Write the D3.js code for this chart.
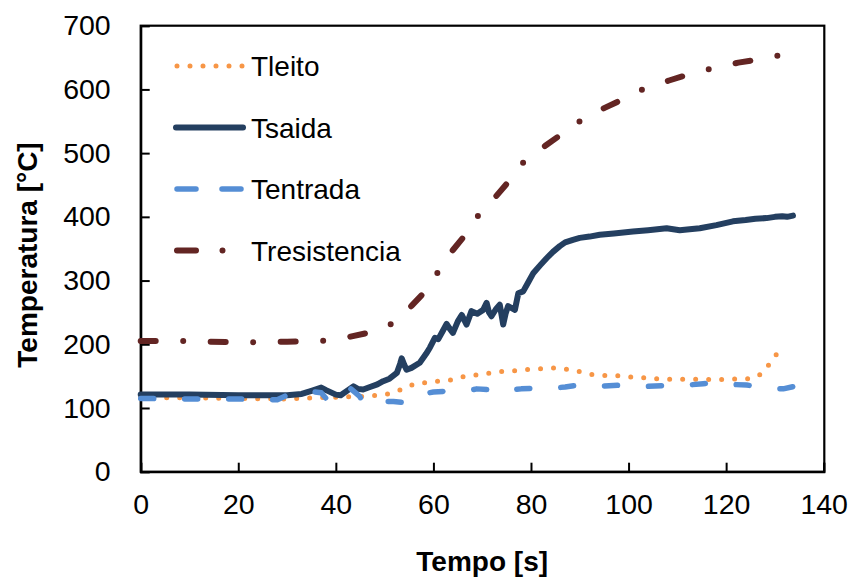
<!DOCTYPE html>
<html>
<head>
<meta charset="utf-8">
<script src="https://cdn.jsdelivr.net/npm/d3@7"></script>
<style>
  html, body { margin: 0; padding: 0; background: #fff; }
  svg { display: block; font-family: "Liberation Sans", Arial, sans-serif; }
</style>
</head>
<body>
<svg id="chart" width="854" height="579"></svg>
<script>
// Axis ticks
const xTicks = [0, 20, 40, 60, 80, 100, 120, 140];
const yTicks = [0, 100, 200, 300, 400, 500, 600, 700];

// Tleito (bed temperature)
const tleitoTime = [0, 10, 20, 30, 35, 40, 45, 48.4, 50.7, 53.5, 55.9, 58.5, 61, 63.6, 66.5, 69.1, 71.6, 73.6, 76, 78.7, 81, 83.8, 86, 88.3, 90.5, 92.7, 95, 97.5, 100, 102.3, 105, 107.1, 110, 112.6, 115, 117.3, 120, 122.8, 125, 126.6, 127.6, 129, 130.3, 131.4];
const tleitoVal  = [116, 116, 115, 114, 116, 117, 118, 120, 122, 129, 137, 140, 142, 144, 150, 152, 155, 157, 158, 160, 161, 163, 162, 160, 156, 152, 151, 151, 149, 148, 146, 145.5, 145, 145.5, 145, 144.5, 145, 145.5, 146, 150, 157, 170, 184, 190];

// Tsaida (outlet temperature)
const tsaidaTime = [0, 10, 20, 30, 33, 35, 37, 38, 40, 41, 42.5, 43.6, 44.5, 45.6, 47, 48.5, 49.7, 51, 52.5, 53.2, 53.5, 54, 54.5, 55.5, 57.2, 58.5, 59.3, 60.3, 61, 62, 62.7, 63.3, 64, 65, 65.8, 66.8, 67.8, 69, 70.2, 70.9, 71.4, 71.9, 72.8, 73.6, 74, 74.3, 74.8, 75.3, 76.7, 77.4, 78.4, 79.5, 80.5, 82, 83.2, 84.5, 85.9, 87, 88.6, 90, 92, 94.1, 97, 100.9, 104, 107.8, 110.5, 112, 114.6, 118, 121.4, 124, 126, 128.3, 130, 131.5, 132.5, 133.7];
const tsaidaVal  = [121, 121, 120, 120, 122, 127, 132, 128, 121, 120, 128, 134, 130, 129, 133, 137, 142, 146, 155, 170, 178, 168, 160, 163, 171, 185, 195, 210, 208, 222, 232, 225, 218, 236, 246, 231, 252, 248, 254, 265, 250, 244, 255, 262, 245, 231, 248, 260, 254, 280, 283, 298, 312, 325, 335, 345, 354, 360, 364, 367, 369, 372, 374, 377, 379, 382, 379, 380, 382, 387, 393, 395, 397, 398, 400, 401, 400, 402];

// Tentrada (inlet temperature)
const tentradaTime = [0, 10, 20, 28, 30, 31.3, 33, 35, 37, 38.1, 40, 41.5, 42.9, 44, 44.9, 45.6, 47.3, 49, 51.8, 53.5, 55.2, 57, 60, 64, 66, 68.9, 71, 73.3, 75, 78, 81, 84.2, 87, 90, 93, 96, 98.9, 102, 104, 106.8, 109.8, 112, 115.3, 118.4, 121, 124.2, 127.3, 129, 131.7, 134];
const tentradaVal  = [115, 114, 114, 113, 120, 124, 125, 126, 124, 114, 115, 116, 131, 124, 118, 108, 108, 110, 110, 109, 118, 121, 125, 127, 126, 130, 129, 124, 128, 130, 131, 131, 133, 136, 134, 135, 136, 135, 134, 135, 136, 136, 138, 140, 137, 136, 133, 131, 130, 134];

// Tresistencia (heater temperature)
const tresTime = [0, 10, 20, 30, 36, 40, 43, 46, 48, 50, 52, 54, 55.6, 58.7, 61.4, 64, 66.9, 69.7, 72.8, 75.7, 78.4, 81, 83, 86.5, 90.7, 95.1, 99, 103.7, 108.3, 113, 117.7, 122.5, 126.7, 131.8];
const tresVal  = [205, 205, 203, 204, 205, 207, 212, 217, 220, 227, 234, 248, 261, 286, 319, 348, 375, 408, 432, 458, 485, 500, 512, 531, 554, 571, 585, 603, 614, 625, 634, 642, 647, 655];

const seriesNames = ["Tleito", "Tsaida", "Tentrada", "Tresistencia"];

const series = [
  { name: seriesNames[0], t: tleitoTime, v: tleitoVal, color: "#F79646", width: 5, dash: "0,13", legendDash: "0,13" },
  { name: seriesNames[1], t: tsaidaTime, v: tsaidaVal, color: "#243F60", width: 6, dash: null, legendDash: null },
  { name: seriesNames[2], t: tentradaTime, v: tentradaVal, color: "#558ED5", width: 5.5, dash: "13,31", legendDash: "19,26" },
  { name: seriesNames[3], t: tresTime, v: tresVal, color: "#632523", width: 6, dash: "15,27.5,0,27.5", legendDash: "19,26.5,0,100" }
];

const svg = d3.select("#chart");
const plotLeft = 140.7, plotRight = 823.7, plotTop = 25.7, plotBottom = 471.7;

const x = d3.scaleLinear().domain([0, 140]).range([plotLeft, plotRight]);
const y = d3.scaleLinear().domain([0, 700]).range([plotBottom, plotTop]);

// Plot frame
svg.append("rect")
  .attr("x", plotLeft).attr("y", plotTop)
  .attr("width", plotRight - plotLeft + 0.6).attr("height", plotBottom - plotTop)
  .attr("fill", "none").attr("stroke", "#000").attr("stroke-width", 2.2);

// Axes with inward ticks
const xAxis = d3.axisBottom(x).tickValues(xTicks).tickSize(-9).tickPadding(22).tickFormat(d3.format("d"));
const yAxis = d3.axisLeft(y).tickValues(yTicks).tickSize(-9).tickPadding(30).tickFormat(d3.format("d"));

const gx = svg.append("g").attr("transform", `translate(0,${plotBottom})`).call(xAxis);
const gy = svg.append("g").attr("transform", `translate(${plotLeft},0)`).call(yAxis);
[gx, gy].forEach(g => {
  g.select(".domain").attr("stroke", "#000").attr("stroke-width", 2.2);
  g.selectAll(".tick line").attr("stroke", "#000").attr("stroke-width", 2);
  g.selectAll(".tick text").attr("fill", "#000").attr("font-size", 28.5)
    .attr("font-family", "Liberation Sans, Arial, sans-serif");
});
gx.selectAll(".tick text").attr("dy", "0.71em");

// Series lines
const line = d3.line().curve(d3.curveLinear);
const plot = svg.append("g");
series.forEach(s => {
  const pts = s.t.map((t, i) => [x(t), y(s.v[i])]);
  const p = plot.append("path")
    .attr("d", line(pts))
    .attr("fill", "none")
    .attr("stroke", s.color)
    .attr("stroke-width", s.width)
    .attr("stroke-linecap", "round")
    .attr("stroke-linejoin", "round");
  if (s.dash) p.attr("stroke-dasharray", s.dash);
});

// Legend
const legend = svg.append("g");
const legY0 = 66, legStep = 61.5;
series.forEach((s, i) => {
  const ly = legY0 + i * legStep;
  const lx0 = s.dash ? 177 : 176, lx1 = 243;
  const l = legend.append("line")
    .attr("x1", lx0).attr("x2", lx1).attr("y1", ly).attr("y2", ly)
    .attr("stroke", s.color).attr("stroke-width", s.width)
    .attr("stroke-linecap", "round");
  if (s.legendDash) l.attr("stroke-dasharray", s.legendDash);
  legend.append("text")
    .attr("x", 251).attr("y", ly + 10)
    .attr("font-size", 28)
    .attr("fill", "#000")
    .text(s.name);
});

// Axis titles
svg.append("text")
  .attr("x", (plotLeft + plotRight) / 2).attr("y", 571)
  .attr("text-anchor", "middle")
  .attr("font-size", 28).attr("font-weight", "bold")
  .text("Tempo [s]");

svg.append("text")
  .attr("transform", `translate(37,255) rotate(-90)`)
  .attr("text-anchor", "middle")
  .attr("font-size", 28).attr("font-weight", "bold")
  .text("Temperatura [°C]");
</script>
</body>
</html>
